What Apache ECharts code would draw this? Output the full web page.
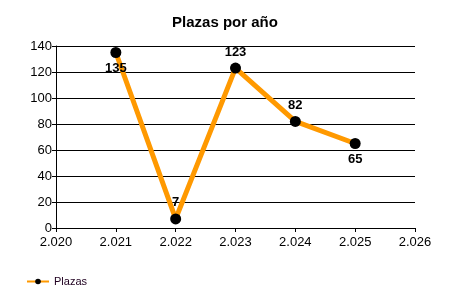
<!DOCTYPE html>
<html><head><meta charset="utf-8">
<script src="https://cdn.jsdelivr.net/npm/echarts@6/dist/echarts.min.js"></script>
<style>html,body{margin:0;padding:0;background:#fff}#c{width:450px;height:300px}</style>
</head><body><div id="c"></div>
<script>
var title = 'Plazas por año';
var seriesName = 'Plazas';
var years = [2021, 2022, 2023, 2024, 2025];
var plazas = [135, 7, 123, 82, 65];
var labelPos = ['bottom', 'top', 'top', 'top', 'bottom'];

var chart = echarts.init(document.getElementById('c'), null, {renderer: 'canvas'});
var font = 'Liberation Sans, Arial, sans-serif';
chart.setOption({
  animation: false,
  title: {text: title, left: 'center', top: 10, textStyle: {fontFamily: font, fontSize: 15, fontWeight: 'bold', color: '#000'}},
  grid: {left: 56, right: 35, top: 46, bottom: 72},
  legend: {
    left: 21, top: 271, itemWidth: 22, itemHeight: 7, itemGap: 6,
    textStyle: {fontFamily: font, fontSize: 11, color: '#200020'},
    data: [seriesName]
  },
  xAxis: {
    type: 'value', min: 2020, max: 2026, interval: 1,
    axisLine: {show: true, lineStyle: {color: '#000', width: 1}},
    axisTick: {show: true, length: 4, lineStyle: {color: '#000'}},
    splitLine: {show: false},
    axisLabel: {fontFamily: font, fontSize: 13, color: '#000', margin: 8,
      formatter: function (v) { var s = String(v); return s.slice(0, 1) + '.' + s.slice(1); }}
  },
  yAxis: {
    type: 'value', min: 0, max: 140, interval: 20,
    axisLine: {show: true, lineStyle: {color: '#000', width: 1}},
    axisTick: {show: true, length: 4, lineStyle: {color: '#000'}},
    splitLine: {show: true, lineStyle: {color: '#000', width: 1}},
    axisLabel: {fontFamily: font, fontSize: 13, color: '#000', margin: 4}
  },
  series: [{
    name: seriesName, type: 'line',
    data: years.map(function (y, i) {
      return {value: [y, plazas[i]], label: {position: labelPos[i]}};
    }),
    lineStyle: {color: '#FF9900', width: 5},
    itemStyle: {color: '#000'},
    symbol: 'circle', symbolSize: 11,
    label: {show: true, distance: 4, fontFamily: font, fontSize: 13, fontWeight: 'bold', color: '#000',
      formatter: function (p) { return p.value[1]; }},
    z: 3
  }]
});
</script></body></html>
